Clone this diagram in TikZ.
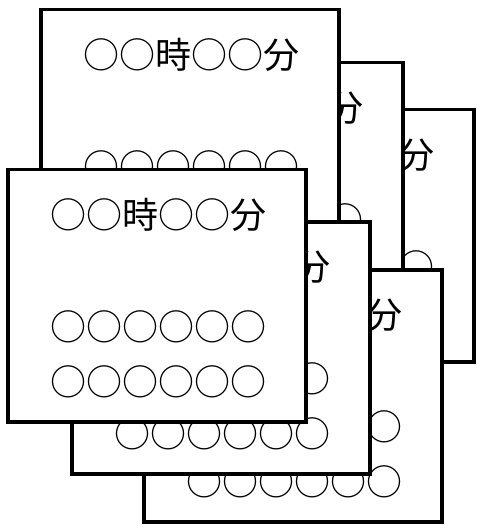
\documentclass[tikz,border=0pt]{standalone}
\usepackage{fontspec}
\newfontfamily\jpfont{Noto Sans CJK JP}
\usepackage{tikz}
\usetikzlibrary{positioning}

\begin{document}
\begin{tikzpicture}[
    x=1pt, y=-1pt,
    cardbox/.style = {
        rectangle, draw=black, fill=white,
        line width=3.5pt, inner sep=0pt,
        minimum width=298pt, minimum height=252pt,
        anchor=north west
    },
    jptext/.style = {
        inner sep=0pt, anchor=center,
        font=\jpfont\fontsize{36}{38}\selectfont
    },
]

\useasboundingbox (0,0) rectangle (480,529);

% Cards, from the back to the front
\foreach \cx/\cy/\cn in {174/108/c, 103/61/b, 39/8/a, 142/268/f, 70/220/d, 6/168/e} {
    \node[cardbox] (card\cn) at (\cx,\cy) {};
    \node[jptext] (time\cn) at ([shift={(152,47)}]card\cn.north west) {○○時○○分};
    \node[jptext] (rowone\cn) at ([shift={(152,159)}]card\cn.north west) {○○○○○○};
    \node[jptext] (rowtwo\cn) at ([shift={(152,214)}]card\cn.north west) {○○○○○○};
}

\end{tikzpicture}
\end{document}
